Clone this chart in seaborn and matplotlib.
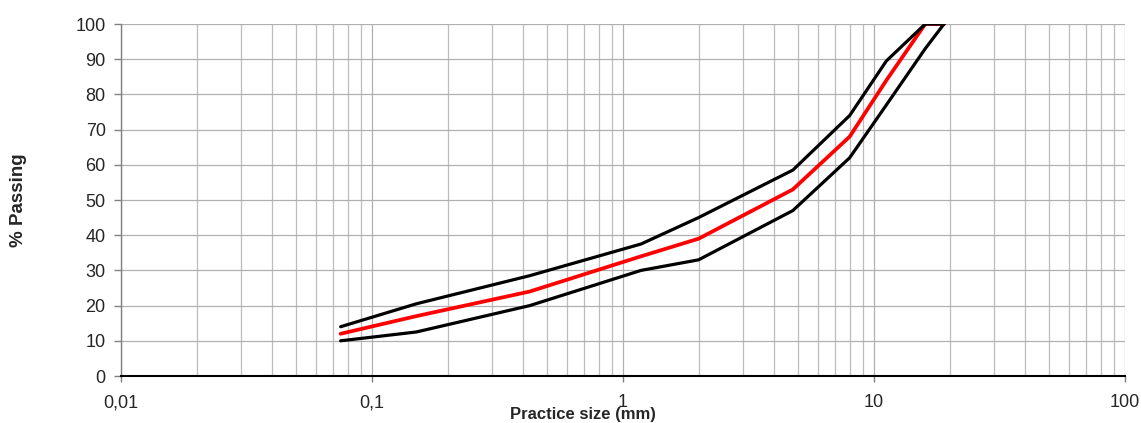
import numpy as np
import pandas as pd
import matplotlib
matplotlib.use("Agg")
import matplotlib.pyplot as plt
from matplotlib.ticker import FixedLocator, FixedFormatter, LogLocator, NullFormatter
import seaborn as sns

# Sieve sizes (mm) and grading envelope (% passing)
sieve_mm = [0.075, 0.15, 0.425, 1.18, 2.0, 4.75, 8.0, 11.2, 16.0, 19.0]
upper_limit = [14, 20.5, 28.5, 37.5, 45, 58.5, 74, 89.5, 100, 100]
design_curve = [12, 17, 24, 34, 39, 53, 68, 84, 100, 100]
lower_limit = [10, 12.5, 20, 30, 33, 47, 62, 77, 93, 100]

x_ticks = [0.01, 0.1, 1, 10, 100]
x_tick_labels = ["0,01", "0,1", "1", "10", "100"]
y_ticks = list(range(0, 101, 10))

sns.set_style("white")
plt.rcParams["font.family"] = ["Liberation Sans", "DejaVu Sans"]

fig = plt.figure(figsize=(11.41, 4.23), dpi=100)
ax = fig.add_axes([121 / 1141, 47 / 423, 1004 / 1141, 352 / 423])

df = pd.DataFrame({
    "size": sieve_mm * 3,
    "passing": design_curve + upper_limit + lower_limit,
    "curve": ["design"] * len(sieve_mm) + ["upper"] * len(sieve_mm) + ["lower"] * len(sieve_mm),
})

sns.lineplot(data=df[df.curve == "design"], x="size", y="passing", color="#ff0000",
             linewidth=2.7, ax=ax, zorder=3, legend=False)
for name in ["upper", "lower"]:
    sns.lineplot(data=df[df.curve == name], x="size", y="passing", color="black",
                 linewidth=2.3, ax=ax, zorder=4, legend=False)

ax.set_xscale("log")
ax.set_xlim(0.01, 100)
ax.set_ylim(0, 100)

ax.xaxis.set_major_locator(FixedLocator(x_ticks))
ax.xaxis.set_major_formatter(FixedFormatter(x_tick_labels))
ax.xaxis.set_minor_locator(LogLocator(base=10, subs=np.arange(2, 10)))
ax.xaxis.set_minor_formatter(NullFormatter())
ax.set_yticks(y_ticks)

ax.grid(True, which="major", axis="both", color="#b0b0b0", linewidth=0.9)
ax.grid(True, which="minor", axis="x", color="#bcbcbc", linewidth=0.9)
ax.set_axisbelow(True)

for side in ["top", "right"]:
    ax.spines[side].set_visible(False)
ax.spines["left"].set_color("#808080")
ax.spines["left"].set_linewidth(1.0)
ax.spines["bottom"].set_color("black")
ax.spines["bottom"].set_linewidth(1.5)

ax.tick_params(axis="x", which="major", length=4, width=1, color="#808080",
               direction="out", pad=9, labelsize=13, bottom=True)
ax.tick_params(axis="x", which="minor", length=0)
ax.tick_params(axis="y", length=5, width=1, color="#808080", direction="out",
               pad=6, labelsize=13, left=True)

ax.set_xlabel("Practice size (mm)", fontsize=12, fontweight="bold")
ax.set_ylabel("% Passing", fontsize=13.5, fontweight="bold")
ax.xaxis.set_label_coords(0.46, -0.088)
ax.yaxis.set_label_coords(-0.094, 0.5)

fig.savefig("out.png", dpi=100)
